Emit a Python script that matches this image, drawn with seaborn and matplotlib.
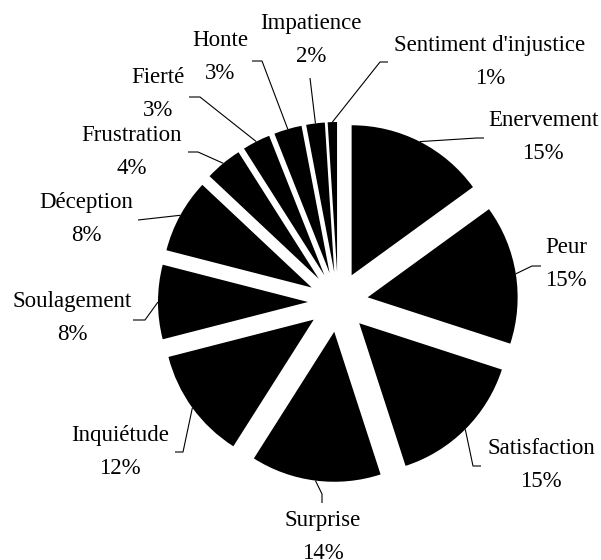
import numpy as np
import matplotlib
matplotlib.use("Agg")
import matplotlib.pyplot as plt
import seaborn as sns

# Emotion shares (percent), listed clockwise from 12 o'clock
emotions = ["Enervement", "Peur", "Satisfaction", "Surprise", "Inquiétude",
            "Soulagement", "Déception", "Frustration", "Fierté", "Honte",
            "Impatience", "Sentiment d'injustice"]
shares = [15, 15, 15, 14, 12, 8, 8, 4, 3, 3, 2, 1]

# Label layout in pixel space (x from left, y from top): text centre,
# then the leader path from the label back towards the slice.
label_centres = [(543, 137), (566, 264), (541, 465), (323, 537), (120, 452),
                 (72, 318), (86, 219), (132, 152), (158, 94), (220, 57),
                 (311, 40), (490, 62)]
leader_paths = [[(484, 138), (477, 138)],
                [(541, 266), (532, 266)],
                [(481, 466), (473, 466)],
                [(322, 503), (322, 494)],
                [(175, 452), (183, 452)],
                [(133, 320), (145, 320)],
                [(138, 220)],
                [(188, 152), (198, 152)],
                [(189, 97), (200, 97)],
                [(252, 61), (262, 61)],
                [(310, 78)],
                [(388, 62), (380, 62)]]

W, H = 601, 560
CX, CY, SCALE = 338, 302, 150.0
EXPLODE = 0.2

sns.set_style("white")
plt.rcParams["font.family"] = ["Liberation Serif", "DejaVu Serif"]

fig = plt.figure(figsize=(W / 100, H / 100), dpi=100)
ax = fig.add_axes([0, 0, 1, 1])


def px(p):
    return ((p[0] - CX) / SCALE, (CY - p[1]) / SCALE)


wedges, _ = ax.pie(shares, explode=[EXPLODE] * len(shares), startangle=90,
                   counterclock=False, colors=["black"] * len(shares),
                   radius=1.0, wedgeprops=dict(linewidth=0))

total = float(sum(shares))
for w, name, val, centre, path in zip(wedges, emotions, shares,
                                      label_centres, leader_paths):
    mid = np.deg2rad((w.theta1 + w.theta2) / 2.0)
    cx0, cy0 = w.center
    attach = (cx0 + np.cos(mid) * w.r, cy0 + np.sin(mid) * w.r)
    pts = [px(p) for p in path] + [attach]
    ax.plot([p[0] for p in pts], [p[1] for p in pts], color="black",
            linewidth=0.8, solid_capstyle="butt")
    tx, ty = px(centre)
    ax.text(tx, ty, f"{name}\n{round(val / total * 100)}%", ha="center",
            va="center", fontsize=16.5, linespacing=1.72, color="black")

ax.set_xlim(-CX / SCALE, (W - CX) / SCALE)
ax.set_ylim(-(H - CY) / SCALE, CY / SCALE)
ax.set_aspect("auto")
ax.axis("off")

fig.savefig("out.png", dpi=100, facecolor="white")
